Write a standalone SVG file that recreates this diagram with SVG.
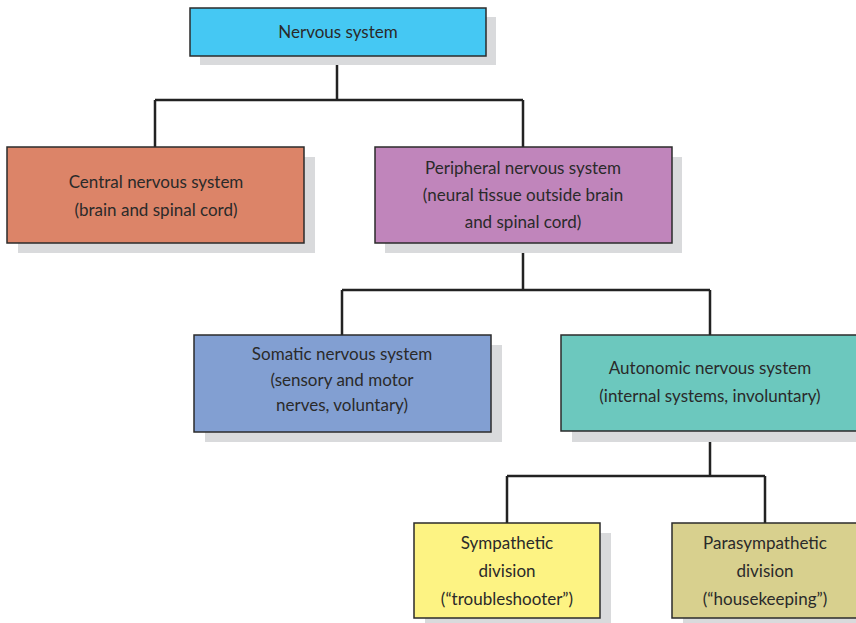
<svg xmlns="http://www.w3.org/2000/svg" width="856" height="623" viewBox="0 0 856 623">
  <style>
    .shadow { fill: #d9dadc; }
    .box { stroke: #2b2b2b; stroke-width: 1.5; }
    .label { font-family: Lato, "Open Sans", sans-serif; font-size: 17px; fill: #2a2a2a; text-anchor: middle; }
    .wire { fill: none; stroke: #222; stroke-width: 2.5; }
  </style>
  <rect width="856" height="623" fill="#ffffff"/>

  <g id="connectors">
    <path class="wire" d="M337 56 V100 M155 100 H523 M155 100 V147 M523 100 V147"/>
    <path class="wire" d="M523 243 V290 M342 290 H710 M342 290 V335 M710 290 V335"/>
    <path class="wire" d="M710 431 V476 M507 476 H765 M507 476 V523 M765 476 V523"/>
  </g>

  <g id="nervous-system">
    <rect class="shadow" x="200" y="17" width="296" height="48"/>
    <rect class="box" x="190" y="8" width="296" height="48" fill="#45c8f3"/>
    <text class="label" x="338" y="38">Nervous system</text>
  </g>

  <g id="central">
    <rect class="shadow" x="18" y="157" width="297" height="96"/>
    <rect class="box" x="7" y="147" width="297" height="96" fill="#dc8468"/>
    <text class="label" x="156" y="188">Central nervous system</text>
    <text class="label" x="156" y="216">(brain and spinal cord)</text>
  </g>

  <g id="peripheral">
    <rect class="shadow" x="385" y="157" width="297" height="96"/>
    <rect class="box" x="375" y="147" width="297" height="96" fill="#c085bb"/>
    <text class="label" x="523" y="174">Peripheral nervous system</text>
    <text class="label" x="523" y="201">(neural tissue outside brain</text>
    <text class="label" x="523" y="228">and spinal cord)</text>
  </g>

  <g id="somatic">
    <rect class="shadow" x="205" y="345" width="297" height="97"/>
    <rect class="box" x="194" y="335" width="297" height="97" fill="#829fd2"/>
    <text class="label" x="342" y="360">Somatic nervous system</text>
    <text class="label" x="342" y="386">(sensory and motor</text>
    <text class="label" x="342" y="411">nerves, voluntary)</text>
  </g>

  <g id="autonomic">
    <rect class="shadow" x="572" y="345" width="298" height="97"/>
    <rect class="box" x="561" y="335" width="298" height="96" fill="#6cc8be"/>
    <text class="label" x="710" y="374">Autonomic nervous system</text>
    <text class="label" x="710" y="402">(internal systems, involuntary)</text>
  </g>

  <g id="sympathetic">
    <rect class="shadow" x="425" y="533" width="186" height="95"/>
    <rect class="box" x="414" y="523" width="186" height="95" fill="#fdf383"/>
    <text class="label" x="507" y="549">Sympathetic</text>
    <text class="label" x="507" y="577">division</text>
    <text class="label" x="507" y="605">(“troubleshooter”)</text>
  </g>

  <g id="parasympathetic">
    <rect class="shadow" x="683" y="533" width="186" height="95"/>
    <rect class="box" x="672" y="523" width="186" height="95" fill="#d8d08e"/>
    <text class="label" x="765" y="549">Parasympathetic</text>
    <text class="label" x="765" y="577">division</text>
    <text class="label" x="765" y="605">(“housekeeping”)</text>
  </g>
</svg>
